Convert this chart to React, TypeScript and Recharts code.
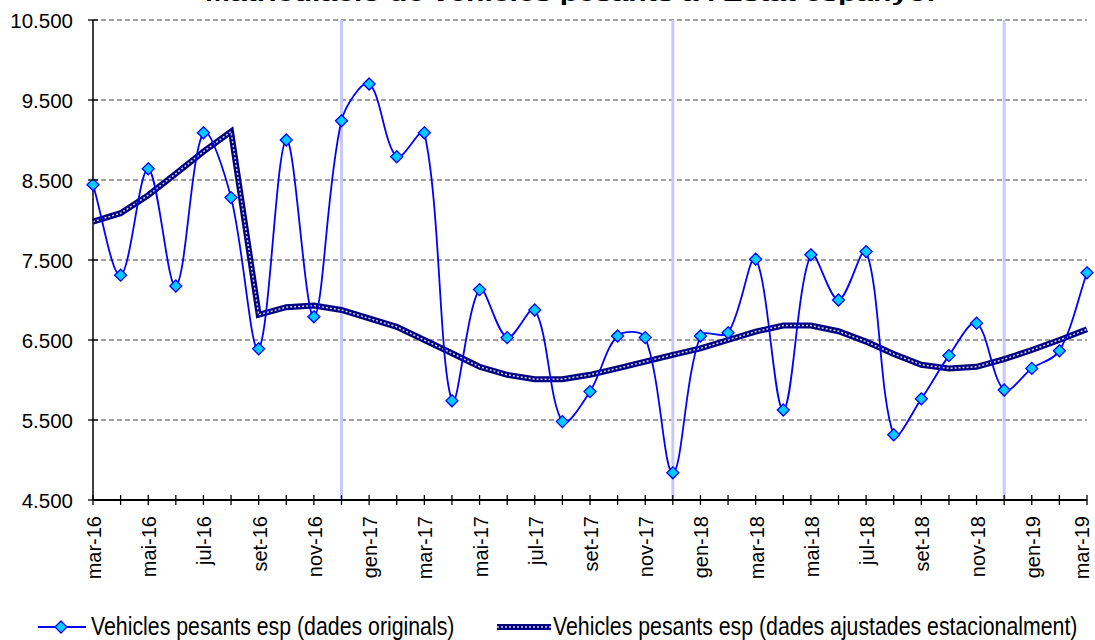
import React from 'react';
import {
  LineChart,
  Line,
  XAxis,
  YAxis,
  CartesianGrid,
  ReferenceLine,
  Legend,
  Customized,
} from 'recharts';

const months: string[] = [
  'mar-16', 'abr-16', 'mai-16', 'jun-16', 'jul-16', 'ago-16', 'set-16', 'oct-16', 'nov-16', 'des-16',
  'gen-17', 'feb-17', 'mar-17', 'abr-17', 'mai-17', 'jun-17', 'jul-17', 'ago-17', 'set-17', 'oct-17', 'nov-17', 'des-17',
  'gen-18', 'feb-18', 'mar-18', 'abr-18', 'mai-18', 'jun-18', 'jul-18', 'ago-18', 'set-18', 'oct-18', 'nov-18', 'des-18',
  'gen-19', 'feb-19', 'mar-19',
];

const originals: number[] = [
  8440, 7310, 8640, 7175, 9090, 8280, 6390, 9000, 6790, 9240,
  9700, 8790, 9090, 5740, 7130, 6530, 6875, 5480, 5855, 6550, 6530, 4840,
  6550, 6590, 7510, 5625, 7565, 7000, 7605, 5315, 5765, 6305, 6710, 5875,
  6145, 6365, 7340,
];

const adjusted: number[] = [
  7980, 8085, 8310, 8580, 8855, 9105, 6815, 6910, 6930, 6875,
  6770, 6665, 6500, 6335, 6165, 6065, 6010, 6010, 6065, 6145, 6230, 6315,
  6395, 6500, 6605, 6680, 6680, 6610, 6480, 6325, 6190, 6145, 6165, 6260,
  6375, 6500, 6635,
];

const yTicks: number[] = [4500, 5500, 6500, 7500, 8500, 9500, 10500];
const yearMarks: string[] = ['des-16', 'des-17', 'des-18'];

const titleText = "Matriculació de vehicles pesants a l'Estat espanyol";
const seriesNames: string[] = [
  'Vehicles pesants esp (dades originals)',
  'Vehicles pesants esp (dades ajustades estacionalment)',
];

const data = months.map((m, i) => ({ month: m, orig: originals[i], adj: adjusted[i] }));

const FONT = '"Liberation Sans", Arial, sans-serif';

// Excel-like smoothing: Catmull-Rom tangents with arms scaled by neighbouring chord lengths
const excelCurve = (context: any) => {
  let pts: number[][] = [];
  const dist = (a: number[], b: number[]) => Math.hypot(b[0] - a[0], b[1] - a[1]);
  return {
    areaStart() {},
    areaEnd() {},
    lineStart() {
      pts = [];
    },
    lineEnd() {
      const n = pts.length;
      if (n === 0) return;
      context.moveTo(pts[0][0], pts[0][1]);
      if (n === 1) return;
      const outArm: number[][] = [];
      const inArm: number[][] = [];
      for (let i = 0; i < n; i++) {
        const p0 = pts[i - 1] || pts[i];
        const p1 = pts[i];
        const p2 = pts[i + 1] || pts[i];
        const tx = p2[0] - p0[0];
        const ty = p2[1] - p0[1];
        const d01 = dist(p0, p1);
        const d12 = dist(p1, p2);
        const tot = d01 + d12 || 1;
        const k = 1 / 3;
        outArm.push([p1[0] + (tx * d12 * k) / tot, p1[1] + (ty * d12 * k) / tot]);
        inArm.push([p1[0] - (tx * d01 * k) / tot, p1[1] - (ty * d01 * k) / tot]);
      }
      for (let i = 0; i < n - 1; i++) {
        const c1 = outArm[i];
        const c2 = inArm[i + 1];
        const p2 = pts[i + 1];
        context.bezierCurveTo(c1[0], c1[1], c2[0], c2[1], p2[0], p2[1]);
      }
    },
    point(x: number, y: number) {
      pts.push([+x, +y]);
    },
  };
};

const fmt = (v: number) => {
  const s = String(Math.round(v));
  return s.replace(/\B(?=(\d{3})+(?!\d))/g, '.');
};

const Diamond = ({ cx, cy }: { cx: number; cy: number }) => {
  const r = 6;
  return (
    <polygon
      points={`${cx},${cy - r} ${cx + r},${cy} ${cx},${cy + r} ${cx - r},${cy}`}
      fill="#00ccff"
      stroke="#0000ff"
      strokeWidth={1.3}
    />
  );
};

const XTick = (props: any) => {
  const { x, y, payload, index } = props;
  const bx = Math.min(x + 8, 1089);
  return (
    <g>
      <line x1={x} y1={y - 5} x2={x} y2={y + 5} stroke="#000" strokeWidth={1.3} />
      {index % 2 === 0 ? (
        <text
          transform={`translate(${bx},${y + 16}) rotate(-90)`}
          textAnchor="end"
          fontFamily={FONT}
          fontSize={20}
          fill="#000"
        >
          {payload.value}
        </text>
      ) : null}
    </g>
  );
};

const YTick = (props: any) => {
  const { x, y, payload } = props;
  return (
    <g>
      <line x1={x - 5} y1={y} x2={x + 5} y2={y} stroke="#000" strokeWidth={1.3} />
      <text x={x - 20} y={y + 8} textAnchor="end" fontFamily={FONT} fontSize={20.5} fill="#000">
        {fmt(payload.value)}
      </text>
    </g>
  );
};

const LegendContent = () => (
  <div style={{ position: 'relative', height: 40, width: 1095, fontFamily: FONT, fontSize: 21.3, color: '#000' }}>
    <svg style={{ position: 'absolute', left: 36, top: 17 }} width={52} height={20}>
      <line x1={2} y1={10} x2={50} y2={10} stroke="#0000ff" strokeWidth={2} />
      <polygon points="25,4 31,10 25,16 19,10" fill="#00ccff" stroke="#0000ff" strokeWidth={1.3} />
    </svg>
    <span
      style={{
        position: 'absolute',
        left: 91,
        top: 14,
        lineHeight: '26px',
        whiteSpace: 'nowrap',
        display: 'inline-block',
        transform: 'scaleY(1.2)',
      }}
    >
      {seriesNames[0]}
    </span>
    <svg style={{ position: 'absolute', left: 496, top: 17 }} width={56} height={20}>
      <line x1={1} y1={10} x2={55} y2={10} stroke="#000080" strokeWidth={6} />
      <line x1={1} y1={10} x2={55} y2={10} stroke="#d0d0e8" strokeWidth={1.5} strokeDasharray="2 2" />
    </svg>
    <span
      style={{
        position: 'absolute',
        left: 553,
        top: 14,
        lineHeight: '26px',
        whiteSpace: 'nowrap',
        display: 'inline-block',
        transform: 'scaleY(1.2)',
      }}
    >
      {seriesNames[1]}
    </span>
  </div>
);

const Title = () => (
  <text
    x={570}
    y={1}
    textAnchor="middle"
    fontFamily={FONT}
    fontWeight="bold"
    fontSize={21}
    textLength={730}
    lengthAdjust="spacingAndGlyphs"
    fill="#000"
  >
    {titleText}
  </text>
);

export default function App() {
  return (
    <div style={{ position: 'absolute', left: 0, top: 0, width: 1095, height: 640, background: '#fff' }}>
      <LineChart width={1095} height={640} data={data} margin={{ top: 20, right: 8, left: 0, bottom: 0 }}>
        <CartesianGrid horizontal vertical={false} stroke="#808080" strokeDasharray="5 3" strokeWidth={1.3} />
        {yearMarks.map((m) => (
          <ReferenceLine key={m} x={m} stroke="#c8c8ff" strokeWidth={3} />
        ))}
        <XAxis
          dataKey="month"
          interval={0}
          height={100}
          tickSize={0}
          tickMargin={0}
          tickLine={false}
          axisLine={{ stroke: '#000', strokeWidth: 2 }}
          tick={<XTick />}
        />
        <YAxis
          width={93}
          domain={[4500, 10500]}
          ticks={yTicks}
          tickSize={0}
          tickMargin={0}
          tickLine={false}
          axisLine={{ stroke: '#000', strokeWidth: 1.5 }}
          tick={<YTick />}
          allowDataOverflow
        />
        <Line
          dataKey="adj"
          type="linear"
          stroke="#000080"
          strokeWidth={6}
          dot={false}
          activeDot={false}
          isAnimationActive={false}
        />
        <Line
          dataKey="adj"
          type="linear"
          stroke="#d0d0e8"
          strokeWidth={1.5}
          strokeDasharray="2 2"
          dot={false}
          activeDot={false}
          legendType="none"
          isAnimationActive={false}
        />
        <Line
          dataKey="orig"
          type={excelCurve as any}
          stroke="#0000ff"
          strokeWidth={1.8}
          dot={(p: any) => <Diamond key={`d-${p.index}`} cx={p.cx} cy={p.cy} />}
          activeDot={false}
          isAnimationActive={false}
        />
        <Legend verticalAlign="bottom" align="left" wrapperStyle={{ left: 0, width: 1095 }} content={<LegendContent />} />
        <Customized component={<Title />} />
      </LineChart>
    </div>
  );
}
